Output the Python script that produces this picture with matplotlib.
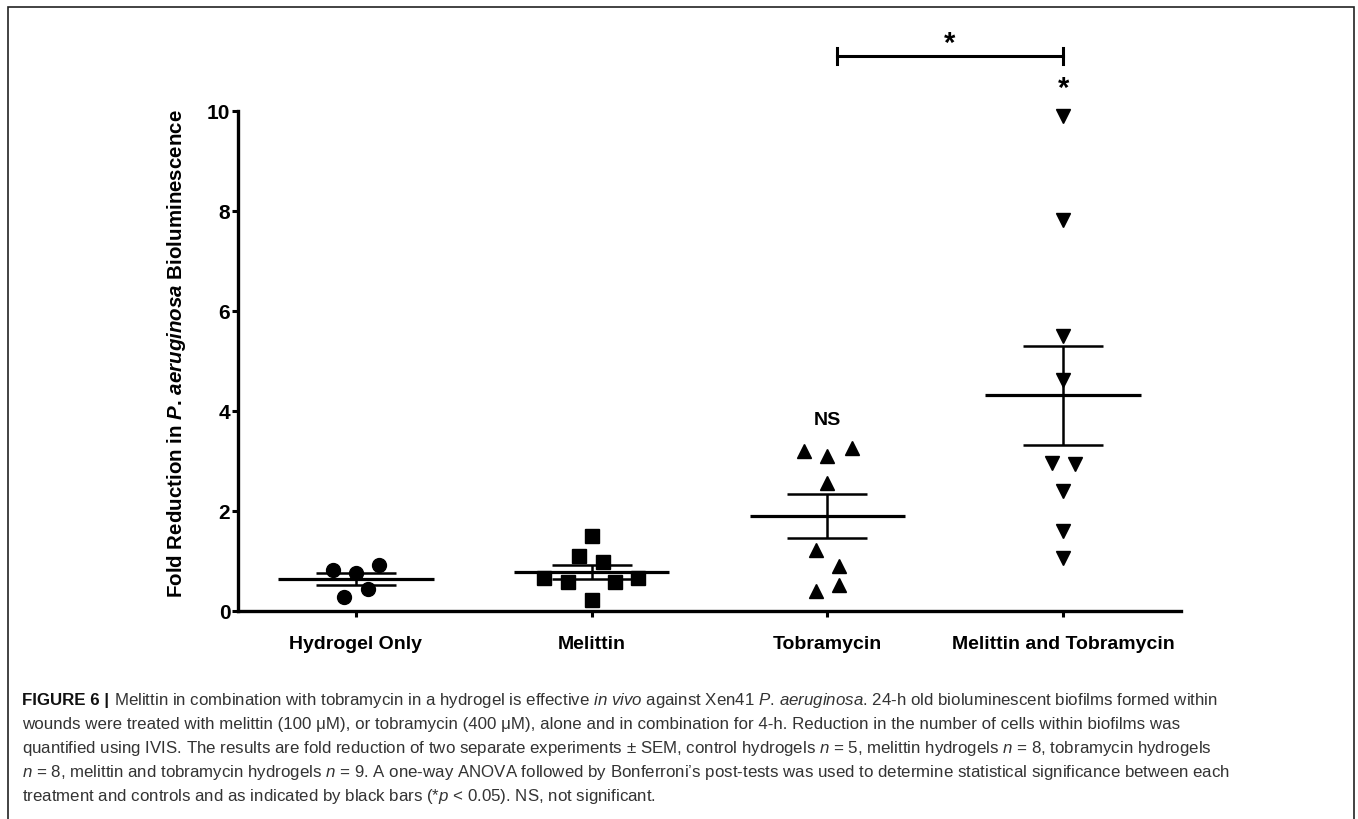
import matplotlib
matplotlib.use('Agg')
import matplotlib.pyplot as plt
from matplotlib import font_manager
from matplotlib.patches import Rectangle
import numpy as np

# fonts: Arial-like for the chart, a narrow one for the caption if there is one
names = {f.name for f in font_manager.fontManager.ttflist}
cap_font = 'Liberation Sans Narrow' if 'Liberation Sans Narrow' in names else 'Liberation Sans'
plt.rcParams['font.family'] = 'Liberation Sans'
plt.rcParams['mathtext.fontset'] = 'custom'
plt.rcParams['mathtext.rm'] = cap_font
plt.rcParams['mathtext.it'] = cap_font + ':italic'
plt.rcParams['mathtext.bf'] = 'Liberation Sans:bold:italic'

categories = ['Hydrogel Only', 'Melittin', 'Tobramycin', 'Melittin and Tobramycin']
markers = ['o', 's', '^', 'v']

hydrogel = [0.82, 0.75, 0.92, 0.43, 0.27]
melittin = [1.49, 1.09, 0.97, 0.65, 0.58, 0.58, 0.65, 0.21]
tobramycin = [3.20, 3.10, 3.25, 2.55, 1.22, 0.90, 0.51, 0.39]
mel_tob = [9.89, 7.82, 5.49, 4.62, 2.95, 2.93, 2.40, 1.59, 1.05]

# horizontal scatter of the points inside each column (category units)
jitter_hydrogel = [-0.097, 0.0, 0.099, 0.052, -0.05]
jitter_melittin = [0.0, -0.054, 0.048, -0.2, -0.1, 0.098, 0.197, 0.0]
jitter_tobramycin = [-0.098, 0.0, 0.104, 0.0, -0.048, 0.051, 0.051, -0.048]
jitter_mel_tob = [0, 0, 0, 0, -0.047, 0.05, 0, 0, 0]

groups = [hydrogel, melittin, tobramycin, mel_tob]
jitters = [jitter_hydrogel, jitter_melittin, jitter_tobramycin, jitter_mel_tob]

fig = plt.figure(figsize=(13.58, 8.20), dpi=100)
ax = fig.add_axes([238/1358, 208.3/820, 943/1358, 500/820])

for i, (vals, jit, m) in enumerate(zip(groups, jitters, markers)):
    vals = np.array(vals)
    ax.plot(i + np.array(jit), vals, ls='none', marker=m, ms=10, color='black',
            clip_on=False, zorder=3)
    mean = vals.mean()
    sem = vals.std(ddof=1) / np.sqrt(len(vals))
    ax.hlines(mean, i - 0.33, i + 0.33, color='black', lw=2.3, zorder=4)
    ax.hlines([mean - sem, mean + sem], i - 0.17, i + 0.17, color='black', lw=1.8, zorder=4)
    ax.vlines(i, mean - sem, mean + sem, color='black', lw=1.8, zorder=4)

ax.set_xlim(-0.5, 3.5)
ax.set_ylim(0, 10)
ax.set_xticks(range(4))
ax.set_xticklabels(categories, fontsize=14, fontweight='bold')
ax.set_yticks([0, 2, 4, 6, 8, 10])
ax.set_yticklabels(['0', '2', '4', '6', '8', '10'], fontsize=15, fontweight='bold')
for s in ['top', 'right']:
    ax.spines[s].set_visible(False)
for s in ['left', 'bottom']:
    ax.spines[s].set_linewidth(2.4)
ax.tick_params(axis='x', length=4.5, width=2.2, pad=13)
ax.tick_params(axis='y', length=4.5, width=2.2, pad=1)

# significance marks
ax.text(2, 3.83, 'NS', ha='center', va='center', fontsize=14, fontweight='bold')
ax.plot([2.04, 3.0], [11.1, 11.1], color='black', lw=2.2, clip_on=False)
ax.plot([2.04, 2.04], [10.94, 11.26], color='black', lw=2.2, clip_on=False)
ax.plot([3.0, 3.0], [10.94, 11.26], color='black', lw=2.2, clip_on=False)
ax.text(2.52, 11.35, '*', ha='center', va='center', fontsize=21, fontweight='bold', clip_on=False)
ax.text(3.0, 10.45, '*', ha='center', va='center', fontsize=21, fontweight='bold', clip_on=False)

fig.text(177/1358, 1 - 354/820, r'Fold Reduction in $\mathbf{P}$. $\mathbf{aeruginosa}$ Bioluminescence',
         rotation=90, ha='center', va='center', fontsize=14.8, fontweight='bold')

# border round the figure (open at the bottom edge)
fig.patches.append(Rectangle((8/1358, -0.05), 1346/1358, 1 - 8/820 + 0.05,
                             transform=fig.transFigure, fill=False, lw=1.2,
                             edgecolor='#222222'))

# caption
cap_size = 12.2
cap_color = '#333333'
lines = [
    r'Melittin in combination with tobramycin in a hydrogel is effective $\mathit{in}$ $\mathit{vivo}$ against Xen41 $\mathit{P}$. $\mathit{aeruginosa}$. 24-h old bioluminescent biofilms formed within',
    'wounds were treated with melittin (100 μM), or tobramycin (400 μM), alone and in combination for 4-h. Reduction in the number of cells within biofilms was',
    r'quantified using IVIS. The results are fold reduction of two separate experiments ± SEM, control hydrogels $\mathit{n}$ = 5, melittin hydrogels $\mathit{n}$ = 8, tobramycin hydrogels',
    r'$\mathit{n}$ = 8, melittin and tobramycin hydrogels $\mathit{n}$ = 9. A one-way ANOVA followed by Bonferroni’s post-tests was used to determine statistical significance between each',
    r'treatment and controls and as indicated by black bars (*$\mathit{p}$ < 0.05). NS, not significant.',
]
baselines = [705, 729, 753, 777, 801]

renderer = fig.canvas.get_renderer()
head = fig.text(22/1358, 1 - baselines[0]/820, 'FIGURE 6 |', fontsize=cap_size, fontweight='bold',
                family=cap_font, color='#111111', va='baseline', ha='left')
head_w = head.get_window_extent(renderer).width
for k, (line, yb) in enumerate(zip(lines, baselines)):
    x0 = 22 + (head_w + 5 if k == 0 else 0)
    fig.text(x0/1358, 1 - yb/820, line, fontsize=cap_size, family=cap_font,
             color=cap_color, va='baseline', ha='left')

fig.savefig('out.png', dpi=100)
